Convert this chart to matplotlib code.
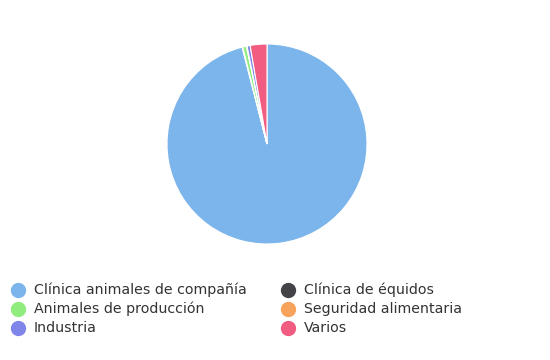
import matplotlib
matplotlib.use("Agg")
import matplotlib.pyplot as plt
from matplotlib.lines import Line2D

labels = ["Clínica animales de compañía", "Clínica de équidos",
          "Animales de producción", "Seguridad alimentaria",
          "Industria", "Varios"]
values = [96.0, 0.1, 0.6, 0.1, 0.5, 2.7]
colors = ["#7cb5ec", "#434348", "#90ed7d", "#f7a35c", "#8085e9", "#f15c80"]

fig = plt.figure(figsize=(5.5, 3.6), dpi=100)
fig.patch.set_facecolor("white")

# pie centred around (267, 144) px, radius ~100 px
ax = fig.add_axes([167 / 550, (360 - 244) / 360, 200 / 550, 200 / 360])
ax.pie(values, colors=colors, startangle=90, counterclock=False,
       wedgeprops=dict(edgecolor="white", linewidth=0.8))
ax.set_xlim(-1, 1)
ax.set_ylim(-1, 1)
ax.set_aspect("equal")
ax.axis("off")

# legend, filled row by row like the original
col_x = [18, 288]
row_y = [290, 309, 328]
for i, (lab, c) in enumerate(zip(labels, colors)):
    x = col_x[i % 2]
    y = row_y[i // 2]
    fig.add_artist(Line2D([x / 550], [1 - y / 360], marker="o", markersize=10,
                          color=c, linestyle="none", transform=fig.transFigure))
    fig.text((x + 16) / 550, 1 - y / 360, lab, fontsize=10.2, color="#333333",
             va="center", ha="left")

fig.savefig("out.png", dpi=100)
